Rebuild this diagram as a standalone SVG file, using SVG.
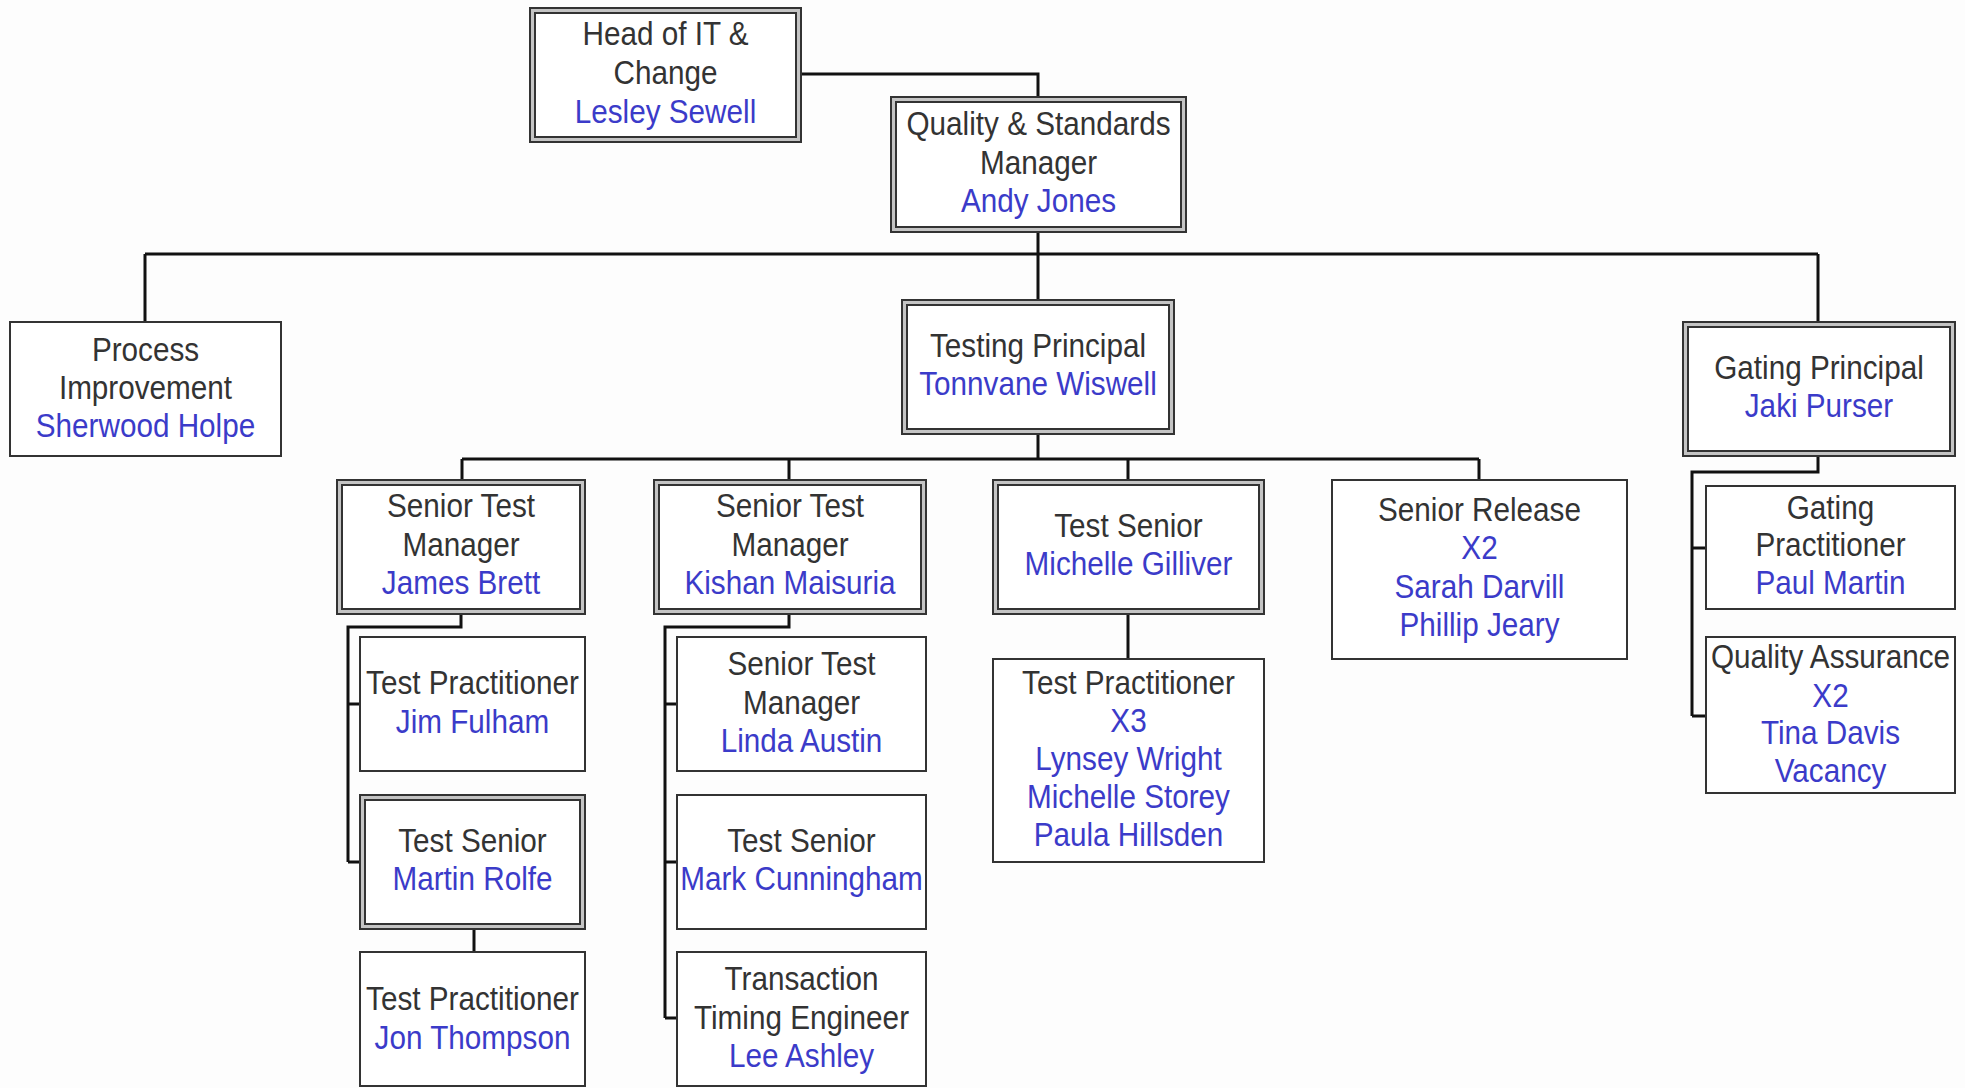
<svg xmlns="http://www.w3.org/2000/svg" width="1965" height="1088" viewBox="0 0 1965 1088">
<style>
.bg{fill:#fdfdfd}
.box{fill:#fff;stroke:#333;stroke-width:2}
.d1{fill:#fff;stroke:#333;stroke-width:2}
.d2{fill:none;stroke:#c4c4c4;stroke-width:3}
.d3{fill:none;stroke:#333;stroke-width:2}
.t{font-family:"Liberation Sans",Arial,sans-serif;font-size:33px;text-anchor:middle;fill:#333}
.n{fill:#3b3bc9}
.c{fill:none;stroke:#111;stroke-width:3}
</style>
<rect class="bg" x="0" y="0" width="1965" height="1088"/>
<g id="connectors">
<path class="c" d="M801,74 H1038 V97"/>
<path class="c" d="M1038,232 V254 M145,254 H1818 M145,254 V322 M1038,254 V300 M1818,254 V322"/>
<path class="c" d="M1038,434 V459 M462,459 H1479 M462,459 V480 M789,459 V480 M1128,459 V480 M1479,459 V480"/>
<path class="c" d="M461,614 V627 H348 V862 M348,704 H360 M348,862 H360"/>
<path class="c" d="M474,929 V952"/>
<path class="c" d="M789,614 V627 H665 V1018 M665,704 H677 M665,862 H677 M665,1018 H677"/>
<path class="c" d="M1128,614 V659"/>
<path class="c" d="M1818,456 V472 H1692 V716 M1692,548 H1706 M1692,716 H1706"/>
</g>
<g id="head">
<rect class="d1" x="530" y="8" width="271" height="134"/><rect class="d2" x="532.5" y="10.5" width="266" height="129"/><rect class="d3" x="535" y="13" width="261" height="124"/>
<text class="t" transform="translate(665.5 0) scale(0.9 1)"><tspan x="0" y="45">Head of IT &amp;</tspan><tspan x="0" y="84">Change</tspan><tspan x="0" y="123" class="n">Lesley Sewell</tspan></text>
</g>
<g id="qsm">
<rect class="d1" x="891" y="97" width="295" height="135"/><rect class="d2" x="893.5" y="99.5" width="290" height="130"/><rect class="d3" x="896" y="102" width="285" height="125"/>
<text class="t" transform="translate(1038.5 0) scale(0.9 1)"><tspan x="0" y="135">Quality &amp; Standards</tspan><tspan x="0" y="174">Manager</tspan><tspan x="0" y="212" class="n">Andy Jones</tspan></text>
</g>
<g id="process">
<rect class="box" x="10" y="322" width="271" height="134"/>
<text class="t" transform="translate(145.5 0) scale(0.9 1)"><tspan x="0" y="361">Process</tspan><tspan x="0" y="399">Improvement</tspan><tspan x="0" y="437" class="n">Sherwood Holpe</tspan></text>
</g>
<g id="testing-principal">
<rect class="d1" x="902" y="300" width="272" height="134"/><rect class="d2" x="904.5" y="302.5" width="267" height="129"/><rect class="d3" x="907" y="305" width="262" height="124"/>
<text class="t" transform="translate(1038 0) scale(0.9 1)"><tspan x="0" y="357">Testing Principal</tspan><tspan x="0" y="395" class="n">Tonnvane Wiswell</tspan></text>
</g>
<g id="gating-principal">
<rect class="d1" x="1683" y="322" width="272" height="134"/><rect class="d2" x="1685.5" y="324.5" width="267" height="129"/><rect class="d3" x="1688" y="327" width="262" height="124"/>
<text class="t" transform="translate(1819 0) scale(0.9 1)"><tspan x="0" y="379">Gating Principal</tspan><tspan x="0" y="417" class="n">Jaki Purser</tspan></text>
</g>
<g id="james">
<rect class="d1" x="337" y="480" width="248" height="134"/><rect class="d2" x="339.5" y="482.5" width="243" height="129"/><rect class="d3" x="342" y="485" width="238" height="124"/>
<text class="t" transform="translate(461 0) scale(0.9 1)"><tspan x="0" y="517">Senior Test</tspan><tspan x="0" y="556">Manager</tspan><tspan x="0" y="594" class="n">James Brett</tspan></text>
</g>
<g id="kishan">
<rect class="d1" x="654" y="480" width="272" height="134"/><rect class="d2" x="656.5" y="482.5" width="267" height="129"/><rect class="d3" x="659" y="485" width="262" height="124"/>
<text class="t" transform="translate(790 0) scale(0.9 1)"><tspan x="0" y="517">Senior Test</tspan><tspan x="0" y="556">Manager</tspan><tspan x="0" y="594" class="n">Kishan Maisuria</tspan></text>
</g>
<g id="michelle">
<rect class="d1" x="993" y="480" width="271" height="134"/><rect class="d2" x="995.5" y="482.5" width="266" height="129"/><rect class="d3" x="998" y="485" width="261" height="124"/>
<text class="t" transform="translate(1128.5 0) scale(0.9 1)"><tspan x="0" y="537">Test Senior</tspan><tspan x="0" y="575" class="n">Michelle Gilliver</tspan></text>
</g>
<g id="senior-release">
<rect class="box" x="1332" y="480" width="295" height="179"/>
<text class="t" transform="translate(1479.5 0) scale(0.9 1)"><tspan x="0" y="521">Senior Release</tspan><tspan x="0" y="559" class="n">X2</tspan><tspan x="0" y="598" class="n">Sarah Darvill</tspan><tspan x="0" y="636" class="n">Phillip Jeary</tspan></text>
</g>
<g id="jim">
<rect class="box" x="360" y="637" width="225" height="134"/>
<text class="t" transform="translate(472.5 0) scale(0.9 1)"><tspan x="0" y="694">Test Practitioner</tspan><tspan x="0" y="733" class="n">Jim Fulham</tspan></text>
</g>
<g id="martin">
<rect class="d1" x="360" y="795" width="225" height="134"/><rect class="d2" x="362.5" y="797.5" width="220" height="129"/><rect class="d3" x="365" y="800" width="215" height="124"/>
<text class="t" transform="translate(472.5 0) scale(0.9 1)"><tspan x="0" y="852">Test Senior</tspan><tspan x="0" y="890" class="n">Martin Rolfe</tspan></text>
</g>
<g id="jon">
<rect class="box" x="360" y="952" width="225" height="134"/>
<text class="t" transform="translate(472.5 0) scale(0.9 1)"><tspan x="0" y="1010">Test Practitioner</tspan><tspan x="0" y="1049" class="n">Jon Thompson</tspan></text>
</g>
<g id="linda">
<rect class="box" x="677" y="637" width="249" height="134"/>
<text class="t" transform="translate(801.5 0) scale(0.9 1)"><tspan x="0" y="675">Senior Test</tspan><tspan x="0" y="714">Manager</tspan><tspan x="0" y="752" class="n">Linda Austin</tspan></text>
</g>
<g id="mark">
<rect class="box" x="677" y="795" width="249" height="134"/>
<text class="t" transform="translate(801.5 0) scale(0.9 1)"><tspan x="0" y="852">Test Senior</tspan><tspan x="0" y="890" class="n">Mark Cunningham</tspan></text>
</g>
<g id="lee">
<rect class="box" x="677" y="952" width="249" height="134"/>
<text class="t" transform="translate(801.5 0) scale(0.9 1)"><tspan x="0" y="990">Transaction</tspan><tspan x="0" y="1029">Timing Engineer</tspan><tspan x="0" y="1067" class="n">Lee Ashley</tspan></text>
</g>
<g id="test-practitioner-x3">
<rect class="box" x="993" y="659" width="271" height="203"/>
<text class="t" transform="translate(1128.5 0) scale(0.9 1)"><tspan x="0" y="694">Test Practitioner</tspan><tspan x="0" y="732" class="n">X3</tspan><tspan x="0" y="770" class="n">Lynsey Wright</tspan><tspan x="0" y="808" class="n">Michelle Storey</tspan><tspan x="0" y="846" class="n">Paula Hillsden</tspan></text>
</g>
<g id="paul">
<rect class="box" x="1706" y="486" width="249" height="123"/>
<text class="t" transform="translate(1830.5 0) scale(0.9 1)"><tspan x="0" y="519">Gating</tspan><tspan x="0" y="556">Practitioner</tspan><tspan x="0" y="594" class="n">Paul Martin</tspan></text>
</g>
<g id="qa">
<rect class="box" x="1706" y="637" width="249" height="156"/>
<text class="t" transform="translate(1830.5 0) scale(0.9 1)"><tspan x="0" y="668">Quality Assurance</tspan><tspan x="0" y="707" class="n">X2</tspan><tspan x="0" y="744" class="n">Tina Davis</tspan><tspan x="0" y="782" class="n">Vacancy</tspan></text>
</g>
</svg>
